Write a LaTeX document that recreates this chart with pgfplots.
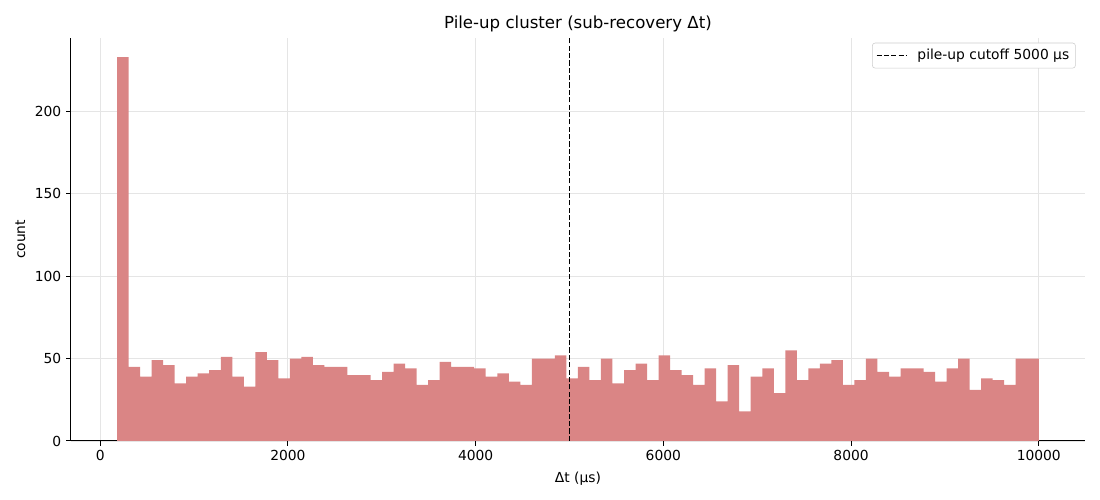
\documentclass[border=0pt]{standalone}
\usepackage{fontspec}
\setmainfont{DejaVu Sans}
\usepackage{pgfplots}
\pgfplotsset{compat=1.18}
\definecolor{barc}{HTML}{DA8585}
\definecolor{gridc}{HTML}{E5E5E5}
\begin{document}
\begin{tikzpicture}
\path[use as bounding box] (-51.1bp,-42.5bp) rectangle (740.9bp,317.5bp);
\begin{axis}[
  at={(0,0)}, anchor=south west,
  scale only axis, width=730bp, height=290.2bp,
  xmin=-311, xmax=10491, ymin=0, ymax=244.65,
  axis x line*=bottom, axis y line*=left,
  axis line style={black, line width=0.7bp, -},
  xtick={0,2000,4000,6000,8000,10000},
  xticklabels={0,2000,4000,6000,8000,10000},
  scaled ticks=false,
  ytick={0,50,100,150,200},
  /pgf/number format/1000 sep={},
  /pgf/number format/assume math mode=true,
  tick align=outside, tick style={black, line width=0.7bp},
  major tick length=3.5bp,
  ticklabel style={font=\fontsize{10}{12}\selectfont},
  grid=major, grid style={gridc, line width=0.8bp},
  title={Pile-up cluster (sub-recovery Δt)},
  title style={font=\fontsize{12}{14}\selectfont, yshift=-5.5bp},
  xlabel={Δt (μs)}, ylabel={count},
  xlabel style={yshift=-1bp},
  label style={font=\fontsize{10}{12}\selectfont},
  legend style={at={(0.991,0.988)}, anchor=north east, draw=black!20, rounded corners=2bp,
    font=\fontsize{10}{12}\selectfont, inner xsep=2.5bp, inner ysep=2.5bp, row sep=0bp},
  legend cell align=left,
  legend image code/.code={\draw[#1] (-2bp,0bp) -- (20bp,0bp);},
]
\addplot[ybar interval, fill=barc, draw=none, forget plot] coordinates {
(180,233) (302.75,45) (425.5,39) (548.25,49) (671,46) (793.75,35) (916.5,39) (1039.25,41)
(1162,43) (1284.75,51) (1407.5,39) (1530.25,33) (1653,54) (1775.75,49) (1898.5,38) (2021.25,50)
(2144,51) (2266.75,46) (2389.5,45) (2512.25,45) (2635,40) (2757.75,40) (2880.5,37) (3003.25,42)
(3126,47) (3248.75,44) (3371.5,34) (3494.25,37) (3617,48) (3739.75,45) (3862.5,45) (3985.25,44)
(4108,39) (4230.75,41) (4353.5,36) (4476.25,34) (4599,50) (4721.75,50) (4844.5,52) (4967.25,38)
(5090,45) (5212.75,37) (5335.5,50) (5458.25,35) (5581,43) (5703.75,47) (5826.5,37) (5949.25,52)
(6072,43) (6194.75,40) (6317.5,34) (6440.25,44) (6563,24) (6685.75,46) (6808.5,18) (6931.25,39)
(7054,44) (7176.75,29) (7299.5,55) (7422.25,37) (7545,44) (7667.75,47) (7790.5,49) (7913.25,34)
(8036,37) (8158.75,50) (8281.5,42) (8404.25,39) (8527,44) (8649.75,44) (8772.5,42) (8895.25,36)
(9018,44) (9140.75,50) (9263.5,31) (9386.25,38) (9509,37) (9631.75,34) (9754.5,50) (9877.25,50)
(10000,50)
};
\addplot[black, line width=1bp, dash pattern=on 3.7bp off 1.6bp] coordinates {(5000,0) (5000,244.65)};
\addlegendentry{\hspace{5bp}pile-up cutoff 5000 μs}
\end{axis}
\end{tikzpicture}
\end{document}
